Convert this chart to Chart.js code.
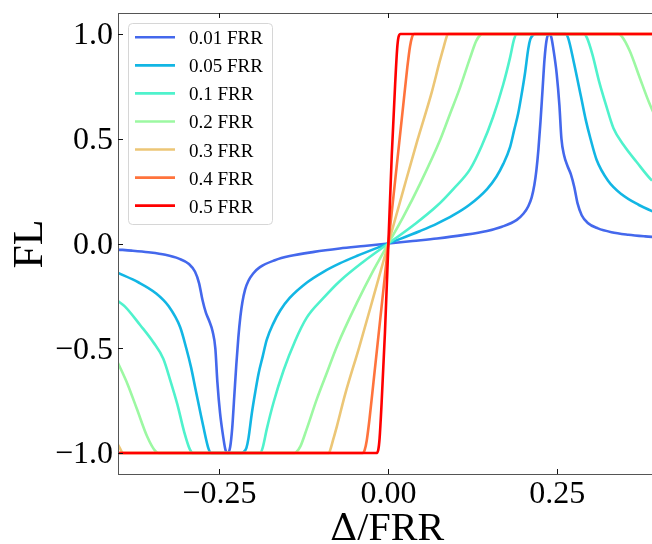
<!DOCTYPE html>
<html><head><meta charset="utf-8">
<script src="https://cdn.jsdelivr.net/npm/chart.js@4"></script>
<style>html,body{margin:0;padding:0;background:#fff;overflow:hidden}#wrap{width:652px;height:544px}</style>
</head><body><div id="wrap"><canvas id="c" width="652" height="544"></canvas></div>
<script>
const seriesLabels = ['0.01 FRR','0.05 FRR','0.1 FRR','0.2 FRR','0.3 FRR','0.4 FRR','0.5 FRR'];
const seriesColors = ['#4468ec','#12b6e4','#4ff2cc','#9cf8a2','#ecc676','#ff733c','#ff0000'];

const x001 = [-0.4,-0.38,-0.355,-0.33,-0.31,-0.295,-0.286,-0.28,-0.275,-0.27,-0.265,-0.26,-0.256,-0.253,-0.249,-0.244,-0.241,-0.2375,-0.234,-0.231,-0.228,-0.225,-0.222,-0.219,-0.216,-0.212,-0.207,-0.2,-0.19,-0.168,-0.146,-0.11,-0.072,-0.036,
  0,0.036,0.072,0.11,0.146,0.168,0.19,0.2,0.207,0.212,0.216,0.219,0.222,0.225,0.228,0.231,0.234,0.2375,0.241,0.244,0.249,0.253,0.256,0.26,0.265,0.27,0.275,0.28,0.286,0.295,0.31,0.33,0.355,0.38,0.4];
const y001 = [-0.029,-0.034,-0.042,-0.054,-0.072,-0.098,-0.135,-0.19,-0.27,-0.33,-0.37,-0.42,-0.5,-0.66,-0.81,-0.93,-0.985,-1,-0.97,-0.88,-0.73,-0.58,-0.45,-0.35,-0.28,-0.22,-0.178,-0.143,-0.113,-0.08,-0.06,-0.04,-0.024,-0.012,
  0,0.012,0.024,0.04,0.06,0.08,0.113,0.143,0.178,0.22,0.28,0.35,0.45,0.58,0.73,0.88,0.97,1,0.985,0.93,0.81,0.66,0.5,0.42,0.37,0.33,0.27,0.19,0.135,0.098,0.072,0.054,0.042,0.034,0.029];

const x005 = [-0.4,-0.37,-0.345,-0.325,-0.308,-0.299,-0.292,-0.285,-0.274,-0.266,-0.262,-0.217,-0.214,-0.21,-0.207,-0.202,-0.197,-0.192,-0.186,-0.18,-0.17,-0.16,-0.146,-0.12,-0.096,-0.072,-0.047,
  0,0.047,0.072,0.096,0.12,0.146,0.16,0.17,0.18,0.186,0.192,0.197,0.202,0.207,0.21,0.214,0.217,0.262,0.266,0.274,0.285,0.292,0.299,0.308,0.325,0.345,0.37,0.4];
const y005 = [-0.14,-0.185,-0.235,-0.3,-0.4,-0.5,-0.59,-0.7,-0.87,-0.98,-1,-1,-0.995,-0.975,-0.93,-0.81,-0.71,-0.62,-0.54,-0.46,-0.38,-0.32,-0.26,-0.185,-0.135,-0.095,-0.06,
  0,0.06,0.095,0.135,0.185,0.26,0.32,0.38,0.46,0.54,0.62,0.71,0.81,0.93,0.975,0.995,1,1,0.98,0.87,0.7,0.59,0.5,0.4,0.3,0.235,0.185,0.14];

const x01 = [-0.4,-0.39,-0.367,-0.348,-0.333,-0.322,-0.312,-0.302,-0.294,-0.289,-0.19,-0.186,-0.18,-0.17,-0.155,-0.138,-0.121,-0.096,-0.072,-0.037,
  0,0.037,0.072,0.096,0.121,0.138,0.155,0.17,0.18,0.186,0.19,0.289,0.294,0.302,0.312,0.322,0.333,0.348,0.367,0.39,0.4];
const y01 = [-0.275,-0.3,-0.39,-0.47,-0.55,-0.66,-0.77,-0.9,-0.98,-1,-1,-0.975,-0.887,-0.76,-0.605,-0.465,-0.355,-0.26,-0.18,-0.087,
  0,0.087,0.18,0.26,0.355,0.465,0.605,0.76,0.887,0.975,1,1,0.98,0.9,0.77,0.66,0.55,0.47,0.39,0.3,0.275];

const x02 = [-0.4,-0.386,-0.372,-0.357,-0.345,-0.34,-0.139,-0.136,-0.13,-0.121,-0.106,-0.091,-0.076,-0.047,-0.022,
  0,0.022,0.047,0.076,0.091,0.106,0.121,0.13,0.136,0.139,0.34,0.345,0.357,0.372,0.386,0.4];
const y02 = [-0.57,-0.67,-0.79,-0.92,-0.99,-1,-1,-0.995,-0.967,-0.887,-0.744,-0.617,-0.49,-0.286,-0.127,
  0,0.127,0.286,0.49,0.617,0.744,0.887,0.967,0.995,1,1,0.99,0.92,0.79,0.67,0.57];

const x03 = [-0.4,-0.392,-0.088,-0.086,-0.082,-0.076,-0.064,-0.043,-0.022,
  0,0.022,0.043,0.064,0.076,0.082,0.086,0.088,0.392,0.4];
const y03 = [-0.96,-1,-1,-0.985,-0.94,-0.87,-0.72,-0.493,-0.254,
  0,0.254,0.493,0.72,0.87,0.94,0.985,1,1,0.96];

const x04 = [-0.4,-0.038,-0.035,-0.032,-0.028,-0.022,-0.016,-0.01,-0.005,
  0,0.005,0.01,0.016,0.022,0.028,0.032,0.035,0.038,0.4];
const y04 = [-1,-1,-0.985,-0.94,-0.84,-0.66,-0.48,-0.3,-0.15,
  0,0.15,0.3,0.48,0.66,0.84,0.94,0.985,1,1];

const x05 = [-0.4,-0.018,-0.015,-0.013,-0.01,-0.005,0,0.005,0.01,0.013,0.015,0.018,0.4];
const y05 = [-1,-1,-0.985,-0.93,-0.76,-0.42,0,0.42,0.76,0.93,0.985,1,1];

const seriesX = [x001,x005,x01,x02,x03,x04,x05];
const seriesY = [y001,y005,y01,y02,y03,y04,y05];

const xTickValues = [-0.25, 0, 0.25];
const xTickLabels = ['\u22120.25','0.00','0.25'];
const yTickValues = [-1, -0.5, 0, 0.5, 1];
const yTickLabels = ['\u22121.0','\u22120.5','0.0','0.5','1.0'];
const xTitleSym = '\u0394';
const xTitleText = '/FRR';
const yTitle = 'FL';

const SERIF = "'Liberation Serif','Times New Roman',serif";

const datasets = seriesLabels.map((lab,i)=>({
  label: lab,
  data: seriesX[i].map((x,j)=>({x:x, y:seriesY[i][j]})),
  borderColor: seriesColors[i],
  backgroundColor: seriesColors[i],
  borderWidth: 2.6,
  pointRadius: 0,
  fill: false,
  cubicInterpolationMode: 'monotone',
  order: seriesLabels.length - 1 - i,
  clip: 0
}));

const decor = {
  id: 'decor',
  afterDatasetsDraw(chart){
    const {ctx, chartArea:a, scales:{x, y}} = chart;
    ctx.save();
    ctx.strokeStyle = '#555'; ctx.lineWidth = 1;
    ctx.beginPath();
    ctx.moveTo(a.left+0.5, a.top); ctx.lineTo(a.left+0.5, a.bottom+1);
    ctx.moveTo(a.left, a.bottom+0.5); ctx.lineTo(a.right, a.bottom+0.5);
    ctx.moveTo(a.left, a.top+0.5); ctx.lineTo(a.right, a.top+0.5);
    ctx.stroke();
    ctx.strokeStyle = '#111';
    ctx.beginPath();
    xTickValues.forEach(v=>{
      const px = Math.round(x.getPixelForValue(v))+0.5;
      ctx.moveTo(px, a.bottom); ctx.lineTo(px, a.bottom-5);
      ctx.moveTo(px, a.top); ctx.lineTo(px, a.top+5);
    });
    yTickValues.forEach(v=>{
      const py = Math.round(y.getPixelForValue(v))+0.5;
      ctx.moveTo(a.left, py); ctx.lineTo(a.left+5, py);
    });
    ctx.stroke();
    const bx=128.5, by=23.5, bw=144, bh=201, r=4;
    ctx.beginPath();
    ctx.moveTo(bx+r,by); ctx.lineTo(bx+bw-r,by); ctx.arcTo(bx+bw,by,bx+bw,by+r,r);
    ctx.lineTo(bx+bw,by+bh-r); ctx.arcTo(bx+bw,by+bh,bx+bw-r,by+bh,r);
    ctx.lineTo(bx+r,by+bh); ctx.arcTo(bx,by+bh,bx,by+bh-r,r);
    ctx.lineTo(bx,by+r); ctx.arcTo(bx,by,bx+r,by,r); ctx.closePath();
    ctx.fillStyle='rgba(255,255,255,0.8)'; ctx.fill();
    ctx.strokeStyle='#d6d6d6'; ctx.lineWidth=1; ctx.stroke();
    ctx.font = '19px ' + SERIF;
    ctx.textAlign='left'; ctx.textBaseline='alphabetic';
    seriesLabels.forEach((lab,i)=>{
      const ry = 37.3 + i*28.06;
      ctx.strokeStyle = seriesColors[i]; ctx.lineWidth = 2.6;
      ctx.beginPath(); ctx.moveTo(135, ry); ctx.lineTo(175, ry); ctx.stroke();
      ctx.fillStyle='#000';
      ctx.fillText(lab, 189, ry+7);
    });
    ctx.fillStyle='#000';
    ctx.font = '40px ' + SERIF;
    const wT = ctx.measureText(xTitleText).width;
    ctx.font = "38px 'DejaVu Serif', serif";
    const wS = ctx.measureText(xTitleSym).width;
    const cx = 387, total = wS + wT;
    let sx = cx - total/2;
    ctx.textAlign='left'; ctx.textBaseline='alphabetic';
    ctx.fillText(xTitleSym, sx, 540);
    ctx.font = '40px ' + SERIF;
    ctx.fillText(xTitleText, sx + wS, 540);
    ctx.save();
    ctx.translate(41.5, 244);
    ctx.rotate(-Math.PI/2);
    ctx.font = '42px ' + SERIF;
    ctx.textAlign='center';
    ctx.fillText(yTitle, 0, 0);
    ctx.restore();
    ctx.restore();
  }
};

new Chart(document.getElementById('c'), {
  type: 'line',
  data: { datasets },
  options: {
    responsive: false,
    animation: false,
    devicePixelRatio: 1,
    layout: { padding: { top: 13, left: 0, right: 0, bottom: 0 } },
    plugins: { legend: { display: false }, tooltip: { enabled: false } },
    scales: {
      x: {
        type: 'linear', min: -0.4, max: 0.39,
        grid: { display: false, drawTicks: false },
        border: { display: false },
        afterBuildTicks: s => { s.ticks = xTickValues.map(v=>({value:v})); },
        afterFit: s => { s.height = 70; s.paddingLeft = 0; s.paddingRight = 0; },
        ticks: {
          autoSkip: false, maxRotation: 0, padding: 1,
          color: '#000', font: { family: SERIF, size: 32 },
          callback: (v) => xTickLabels[xTickValues.indexOf(v)] ?? ''
        }
      },
      y: {
        type: 'linear', min: -1.1, max: 1.1,
        grid: { display: false, drawTicks: false },
        border: { display: false },
        afterBuildTicks: s => { s.ticks = yTickValues.map(v=>({value:v})); },
        afterFit: s => { s.width = 118; s.paddingTop = 0; s.paddingBottom = 0; },
        ticks: {
          autoSkip: false, padding: 5, labelOffset: 2,
          color: '#000', font: { family: SERIF, size: 32 },
          callback: (v) => yTickLabels[yTickValues.indexOf(v)] ?? ''
        }
      }
    }
  },
  plugins: [decor]
});
</script></body></html>
